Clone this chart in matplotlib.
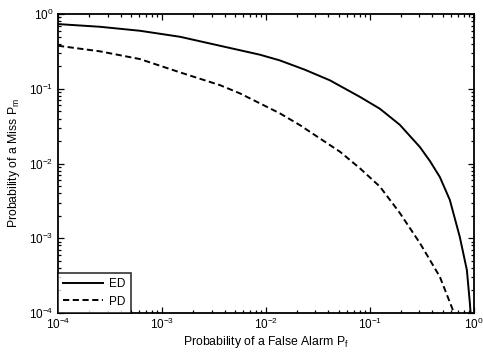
import matplotlib
matplotlib.use("Agg")
import matplotlib.pyplot as plt
from matplotlib.ticker import LogLocator, NullFormatter

plt.rcParams['font.family'] = ['Liberation Sans', 'DejaVu Sans']
plt.rcParams['mathtext.fontset'] = 'custom'
plt.rcParams['mathtext.rm'] = 'Liberation Sans'
plt.rcParams['mathtext.it'] = 'Liberation Sans:italic'

# ED curve (probability of false alarm, probability of miss)
ed_pf = [1e-4, 2.54e-4, 6.14e-4, 1.49e-3, 3.61e-3, 8.75e-3, 1.36e-2, 2.37e-2,
         4.12e-2, 8.02e-2, 0.125, 0.194, 0.303, 0.378, 0.471, 0.588, 0.733,
         0.857, 0.916, 0.931]
ed_pm = [0.735, 0.676, 0.598, 0.497, 0.377, 0.286, 0.240, 0.180,
         0.130, 0.078, 0.054, 0.033, 0.0166, 0.0108, 0.0066, 0.00325, 0.00104,
         3.76e-4, 1.36e-4, 1e-4]

# PD curve
pd_pf = [1e-4, 2.54e-4, 6.14e-4, 1.49e-3, 3.61e-3, 5.62e-3, 8.75e-3, 1.36e-2,
         2.12e-2, 3.30e-2, 5.15e-2, 8.02e-2, 0.125, 0.194, 0.303, 0.471,
         0.628, 0.656]
pd_pm = [0.377, 0.317, 0.250, 0.166, 0.112, 0.0869, 0.0639, 0.0470,
         0.0327, 0.0217, 0.0144, 0.00863, 0.0049, 0.00218, 8.6e-4, 3.05e-4,
         1.1e-4, 1e-4]

fig = plt.figure(figsize=(4.83, 3.52), dpi=100)
ax = fig.add_axes([0.120, 0.111, 0.861, 0.849])

ax.plot(ed_pf, ed_pm, color='black', linestyle='-', linewidth=1.4, label='ED')
ax.plot(pd_pf, pd_pm, color='black', linestyle=(0, (3.2, 1.8)), linewidth=1.4, label='PD')

ax.set_xscale('log')
ax.set_yscale('log')
ax.set_xlim(1e-4, 1)
ax.set_ylim(1e-4, 1)

ax.xaxis.set_major_locator(LogLocator(base=10, numticks=10))
ax.yaxis.set_major_locator(LogLocator(base=10, numticks=10))
ax.xaxis.set_minor_locator(LogLocator(base=10, subs=range(2, 10), numticks=20))
ax.yaxis.set_minor_locator(LogLocator(base=10, subs=range(2, 10), numticks=20))
ax.xaxis.set_minor_formatter(NullFormatter())
ax.yaxis.set_minor_formatter(NullFormatter())

ax.tick_params(which='both', direction='in', top=True, right=True, labelsize=8.5, width=0.9)
ax.tick_params(which='major', length=4)
ax.tick_params(which='minor', length=2)
ax.tick_params(axis='x', pad=3)
for s in ax.spines.values():
    s.set_linewidth(1.3)

ax.set_xlabel('Probability of a False Alarm P$_\\mathregular{f}$', fontsize=8.8, labelpad=1)
ax.set_ylabel('Probability of a Miss P$_\\mathregular{m}$', fontsize=8.8, labelpad=5)

leg = ax.legend(loc='lower left', fontsize=8.5, frameon=True, fancybox=False,
                edgecolor='black', borderaxespad=0.0, handlelength=3.4,
                borderpad=0.45, labelspacing=0.45, handletextpad=0.5)
leg.get_frame().set_linewidth(1.2)

fig.savefig('out.png', dpi=100)
